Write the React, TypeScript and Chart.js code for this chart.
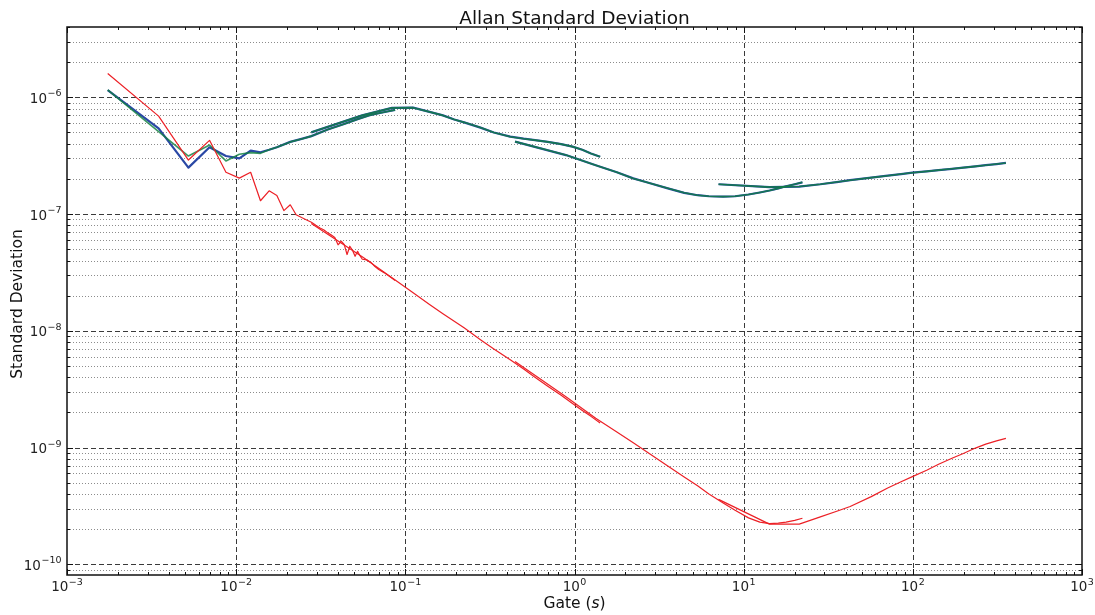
import { useEffect, useRef } from "react";
import { Chart, registerables } from "chart.js";

Chart.register(...registerables);

// ---------- axis ranges & ticks ----------
const X_MIN = 1e-3;
const X_MAX = 1e3;
const Y_MIN = 8.1e-11;
const Y_MAX = 4.0e-6;
const xTickValues = [1e-3, 1e-2, 1e-1, 1, 10, 100, 1000];
const yTickValues = [1e-10, 1e-9, 1e-8, 1e-7, 1e-6];

const TITLE = "Allan Standard Deviation";
const X_LABEL_MAIN = "Gate (";
const X_LABEL_ITALIC = "s";
const X_LABEL_END = ")";
const Y_LABEL = "Standard Deviation";

// ---------- data (gate in s, standard deviation) ----------
// run 1 (shortest gates)
const seg1TauRed = [
  0.00174, 0.00348, 0.00522, 0.00696, 0.0087, 0.01044, 0.01218, 0.01392, 0.01566, 0.0174,
  0.01914, 0.02088, 0.02262, 0.02436, 0.0261, 0.02784, 0.02958, 0.03132, 0.03306, 0.0348,
  0.03654, 0.03828, 0.04002, 0.04176, 0.0435, 0.04524, 0.04698, 0.04872, 0.05046, 0.0522,
  0.05394, 0.05568, 0.05916, 0.06264, 0.06612, 0.0696, 0.07482, 0.08004, 0.087,
];
const seg1Red = [
  1.6e-6, 6.9e-7, 2.9e-7, 4.28e-7, 2.28e-7, 2.03e-7, 2.28e-7, 1.3e-7, 1.58e-7, 1.44e-7,
  1.07e-7, 1.2e-7, 9.85e-8, 9.33e-8, 8.9e-8, 8.5e-8, 8.0e-8, 7.6e-8, 7.3e-8, 6.9e-8,
  6.6e-8, 6.3e-8, 5.45e-8, 5.85e-8, 5.5e-8, 4.5e-8, 5.3e-8, 4.9e-8, 4.35e-8, 4.8e-8,
  4.4e-8, 4.1e-8, 4.05e-8, 3.85e-8, 3.55e-8, 3.35e-8, 3.15e-8, 2.95e-8, 2.7e-8,
];
const seg1Tau = [
  0.00174, 0.00348, 0.00522, 0.00696, 0.0087, 0.01044, 0.01218, 0.01392, 0.01566, 0.0174,
  0.02088, 0.02436, 0.02784, 0.0348, 0.0435, 0.0522, 0.0609, 0.0696, 0.0783, 0.087,
];
const seg1Blue = [
  1.15e-6, 5.42e-7, 2.5e-7, 3.73e-7, 3.14e-7, 3.0e-7, 3.49e-7, 3.38e-7, 3.55e-7, 3.73e-7,
  4.15e-7, 4.4e-7, 4.65e-7, 5.3e-7, 5.9e-7, 6.5e-7, 7.0e-7, 7.3e-7, 7.55e-7, 7.8e-7,
];
const seg1Green = [
  1.16e-6, 5.07e-7, 3.14e-7, 3.9e-7, 2.85e-7, 3.25e-7, 3.36e-7, 3.31e-7, 3.55e-7, 3.73e-7,
  4.15e-7, 4.4e-7, 4.65e-7, 5.3e-7, 5.9e-7, 6.5e-7, 7.0e-7, 7.3e-7, 7.55e-7, 7.8e-7,
];

// run 2
const seg2TauRed = [
  0.0278, 0.0556, 0.0834, 0.1112, 0.139, 0.1668, 0.2224, 0.278, 0.3336, 0.417,
  0.5004, 0.5838, 0.695, 0.834, 0.973, 1.112, 1.251, 1.418,
];
const seg2Red = [
  8.3e-8, 4.3e-8, 2.85e-8, 2.12e-8, 1.68e-8, 1.4e-8, 1.06e-8, 8.4e-9, 7.0e-9, 5.65e-9,
  4.7e-9, 4.0e-9, 3.35e-9, 2.8e-9, 2.38e-9, 2.08e-9, 1.85e-9, 1.62e-9,
];
const seg2Tau = [
  0.0278, 0.0556, 0.0834, 0.1112, 0.139, 0.1668, 0.1946, 0.2224, 0.278, 0.3336,
  0.417, 0.5004, 0.5838, 0.695, 0.834, 0.973, 1.112, 1.251, 1.418,
];
const seg2BlueGreen = [
  5.01e-7, 7.0e-7, 8.12e-7, 8.15e-7, 7.5e-7, 7.0e-7, 6.45e-7, 6.1e-7, 5.5e-7, 5.0e-7,
  4.6e-7, 4.42e-7, 4.3e-7, 4.15e-7, 3.97e-7, 3.78e-7, 3.55e-7, 3.3e-7, 3.1e-7,
];

// run 3
const seg3Tau = [
  0.445, 0.89, 1.335, 1.78, 2.225, 2.67, 3.56, 4.45, 5.34, 6.23,
  7.565, 8.9, 10.68, 12.46, 14.24, 16.02, 17.8, 20.03, 22.25,
];
const seg3Red = [
  5.45e-9, 2.72e-9, 1.78e-9, 1.36e-9, 1.1e-9, 9.2e-10, 6.95e-10, 5.6e-10, 4.7e-10, 4.0e-10,
  3.35e-10, 2.9e-10, 2.5e-10, 2.3e-10, 2.23e-10, 2.25e-10, 2.3e-10, 2.38e-10, 2.48e-10,
];
const seg3BlueGreen = [
  4.17e-7, 3.2e-7, 2.62e-7, 2.28e-7, 2.02e-7, 1.87e-7, 1.66e-7, 1.52e-7, 1.45e-7, 1.42e-7,
  1.41e-7, 1.42e-7, 1.47e-7, 1.53e-7, 1.59e-7, 1.66e-7, 1.73e-7, 1.8e-7, 1.87e-7,
];

// run 4 (longest gates)
const seg4Tau = [
  7.1, 14.2, 21.3, 28.4, 35.5, 42.6, 56.8, 71, 85.2, 99.4,
  120.7, 142, 170.4, 198.8, 234.3, 269.8, 312.4, 355,
];
const seg4Red = [
  3.6e-10, 2.21e-10, 2.21e-10, 2.55e-10, 2.85e-10, 3.13e-10, 3.8e-10, 4.5e-10, 5.1e-10, 5.64e-10,
  6.4e-10, 7.2e-10, 8.1e-10, 8.9e-10, 9.9e-10, 1.07e-9, 1.14e-9, 1.2e-9,
];
const seg4BlueGreen = [
  1.8e-7, 1.7e-7, 1.72e-7, 1.8e-7, 1.88e-7, 1.95e-7, 2.05e-7, 2.13e-7, 2.2e-7, 2.26e-7,
  2.32e-7, 2.38e-7, 2.44e-7, 2.5e-7, 2.56e-7, 2.62e-7, 2.68e-7, 2.74e-7,
];

// ---------- styles ----------
const RED = "rgb(236,32,38)";
const GREEN = "rgba(16,128,64,0.82)";
const BLUE = "rgb(42,72,165)";
const FONT = "'DejaVu Sans', 'Liberation Sans', sans-serif";
const TICK_FONT = `13.5px ${FONT}`;
const SUP_FONT = `9.5px ${FONT}`;

const expText = (v: number) => {
  const e = Math.round(Math.log10(v));
  return (e < 0 ? "\u2212" : "") + String(Math.abs(e));
};

const pts = (xs: number[], ys: number[]) => xs.map((x, i) => ({ x, y: ys[i] }));

const mk = (data: { x: number; y: number }[], color: string, width: number) => ({
  data,
  borderColor: color,
  borderWidth: width,
  pointRadius: 0,
  fill: false,
  tension: 0,
  borderJoinStyle: "round" as const,
  borderCapStyle: "butt" as const,
});

// draws "10" with a raised exponent; anchor: "center" (x) or "right" (y)
const drawPow = (ctx: CanvasRenderingContext2D, v: number, ax: number, baseline: number, anchor: "center" | "right") => {
  const ex = expText(v);
  ctx.font = TICK_FONT;
  const w10 = ctx.measureText("10").width;
  ctx.font = SUP_FONT;
  const we = ctx.measureText(ex).width;
  const total = w10 + we + 0.5;
  const sx = anchor === "center" ? ax - total / 2 : ax - total;
  ctx.textAlign = "left";
  ctx.textBaseline = "alphabetic";
  ctx.font = TICK_FONT;
  ctx.fillText("10", sx, baseline);
  ctx.font = SUP_FONT;
  ctx.fillText(ex, sx + w10 + 0.5, baseline - 6.5);
};

const framePlugin = {
  id: "mplFrame",
  beforeDatasetsDraw(chart: any) {
    const { ctx, chartArea } = chart;
    const { left, right, top, bottom } = chartArea;
    const xs = chart.scales.x;
    const ys = chart.scales.y;
    ctx.save();
    ctx.beginPath();
    ctx.rect(left, top, right - left, bottom - top);
    ctx.clip();
    ctx.lineWidth = 1;
    // minor horizontal dotted lines
    ctx.strokeStyle = "#8c8c8c";
    ctx.setLineDash([1, 2]);
    for (let e = -11; e <= -6; e++) {
      for (let k = 2; k <= 9; k++) {
        const v = k * Math.pow(10, e);
        if (v <= Y_MIN || v >= Y_MAX) continue;
        const py = Math.round(ys.getPixelForValue(v)) + 0.5;
        ctx.beginPath();
        ctx.moveTo(left, py);
        ctx.lineTo(right, py);
        ctx.stroke();
      }
    }
    // major dashed lines
    ctx.strokeStyle = "#3a3a3a";
    ctx.setLineDash([5, 3]);
    for (const v of yTickValues) {
      const py = Math.round(ys.getPixelForValue(v)) + 0.5;
      ctx.beginPath();
      ctx.moveTo(left, py);
      ctx.lineTo(right, py);
      ctx.stroke();
    }
    for (const v of xTickValues) {
      if (v <= X_MIN || v >= X_MAX) continue;
      const px = Math.round(xs.getPixelForValue(v)) + 0.5;
      ctx.beginPath();
      ctx.moveTo(px, top);
      ctx.lineTo(px, bottom);
      ctx.stroke();
    }
    ctx.restore();
  },
  afterDatasetsDraw(chart: any) {
    const { ctx, chartArea } = chart;
    const { left, right, top, bottom } = chartArea;
    const xs = chart.scales.x;
    const ys = chart.scales.y;
    ctx.save();
    ctx.setLineDash([]);
    ctx.strokeStyle = "#111";
    ctx.lineWidth = 1;
    // tick marks (inward, all sides)
    const xTick = (px: number, len: number) => {
      ctx.beginPath();
      ctx.moveTo(px, bottom);
      ctx.lineTo(px, bottom - len);
      ctx.moveTo(px, top);
      ctx.lineTo(px, top + len);
      ctx.stroke();
    };
    const yTick = (py: number, len: number) => {
      ctx.beginPath();
      ctx.moveTo(left, py);
      ctx.lineTo(left + len, py);
      ctx.moveTo(right, py);
      ctx.lineTo(right - len, py);
      ctx.stroke();
    };
    for (let e = -3; e <= 3; e++) {
      for (let k = 1; k <= 9; k++) {
        const v = k * Math.pow(10, e);
        if (v < X_MIN || v > X_MAX) continue;
        const px = Math.round(xs.getPixelForValue(v)) + 0.5;
        xTick(px, k === 1 ? 6 : 3);
      }
    }
    for (let e = -11; e <= -6; e++) {
      for (let k = 1; k <= 9; k++) {
        const v = k * Math.pow(10, e);
        if (v < Y_MIN || v > Y_MAX) continue;
        const py = Math.round(ys.getPixelForValue(v)) + 0.5;
        yTick(py, k === 1 ? 6 : 3);
      }
    }
    // frame
    ctx.lineWidth = 1.5;
    ctx.strokeStyle = "#111";
    ctx.strokeRect(left, top, right - left, bottom - top);

    // tick labels
    ctx.fillStyle = "#222";
    for (const v of xTickValues) {
      drawPow(ctx, v, xs.getPixelForValue(v), bottom + 16, "center");
    }
    for (const v of yTickValues) {
      drawPow(ctx, v, left - 5.5, ys.getPixelForValue(v) + 5.5, "right");
    }

    // title
    ctx.fillStyle = "#111";
    ctx.textAlign = "center";
    ctx.textBaseline = "alphabetic";
    ctx.font = `18.5px ${FONT}`;
    const cx = (left + right) / 2;
    ctx.fillText(TITLE, cx, 24);

    // x label with italic s
    ctx.textAlign = "left";
    const fNorm = `15.5px ${FONT}`;
    const fIt = `italic 15.5px ${FONT}`;
    ctx.font = fNorm;
    const w1 = ctx.measureText(X_LABEL_MAIN).width;
    const w3 = ctx.measureText(X_LABEL_END).width;
    ctx.font = fIt;
    const w2 = ctx.measureText(X_LABEL_ITALIC).width;
    let sx = cx - (w1 + w2 + w3) / 2;
    const by = 608;
    ctx.font = fNorm;
    ctx.fillText(X_LABEL_MAIN, sx, by);
    sx += w1;
    ctx.font = fIt;
    ctx.fillText(X_LABEL_ITALIC, sx, by);
    sx += w2;
    ctx.font = fNorm;
    ctx.fillText(X_LABEL_END, sx, by);

    // y label
    ctx.save();
    ctx.translate(21.5, (top + bottom) / 2 + 3);
    ctx.rotate(-Math.PI / 2);
    ctx.textAlign = "center";
    ctx.font = `15.5px ${FONT}`;
    ctx.fillText(Y_LABEL, 0, 0);
    ctx.restore();

    ctx.restore();
  },
};

export default function App() {
  const ref = useRef<HTMLCanvasElement | null>(null);

  useEffect(() => {
    if (!ref.current) return;
    const datasets = [
      mk(pts(seg1TauRed, seg1Red), RED, 1.2),
      mk(pts(seg2TauRed, seg2Red), RED, 1.2),
      mk(pts(seg3Tau, seg3Red), RED, 1.2),
      mk(pts(seg4Tau, seg4Red), RED, 1.2),
      mk(pts(seg1Tau, seg1Green), GREEN, 1.6),
      mk(pts(seg2Tau, seg2BlueGreen), GREEN, 1.6),
      mk(pts(seg3Tau, seg3BlueGreen), GREEN, 1.6),
      mk(pts(seg4Tau, seg4BlueGreen), GREEN, 1.6),
      mk(pts(seg1Tau, seg1Blue), BLUE, 2.2),
      mk(pts(seg2Tau, seg2BlueGreen), BLUE, 2.2),
      mk(pts(seg3Tau, seg3BlueGreen), BLUE, 2.2),
      mk(pts(seg4Tau, seg4BlueGreen), BLUE, 2.2),
    ];
    const chart = new Chart(ref.current, {
      type: "line",
      data: { datasets } as any,
      options: {
        animation: false,
        responsive: false,
        devicePixelRatio: 1,
        parsing: false as any,
        normalized: true,
        layout: { padding: { left: 0, top: 27, right: 13, bottom: 0 } },
        plugins: {
          legend: { display: false },
          tooltip: { enabled: false },
          title: { display: false },
        },
        scales: {
          x: {
            type: "logarithmic",
            min: X_MIN,
            max: X_MAX,
            grid: { display: false, drawTicks: false },
            border: { display: false },
            ticks: { display: false, autoSkip: false },
            afterBuildTicks: (s: any) => {
              s.ticks = xTickValues.map((v) => ({ value: v }));
            },
            afterFit: (s: any) => {
              s.height = 40;
              s.paddingLeft = 0;
              s.paddingRight = 0;
            },
          },
          y: {
            type: "logarithmic",
            min: Y_MIN,
            max: Y_MAX,
            grid: { display: false, drawTicks: false },
            border: { display: false },
            ticks: { display: false, autoSkip: false },
            afterBuildTicks: (s: any) => {
              s.ticks = yTickValues.map((v) => ({ value: v }));
            },
            afterFit: (s: any) => {
              s.width = 67;
              s.paddingTop = 0;
              s.paddingBottom = 0;
            },
          },
        },
      } as any,
      plugins: [framePlugin as any],
    });
    return () => chart.destroy();
  }, []);

  return (
    <div style={{ position: "fixed", left: 0, top: 0, width: 1095, height: 615, background: "#fff" }}>
      <canvas ref={ref} width={1095} height={615} style={{ display: "block", width: 1095, height: 615 }} />
    </div>
  );
}
